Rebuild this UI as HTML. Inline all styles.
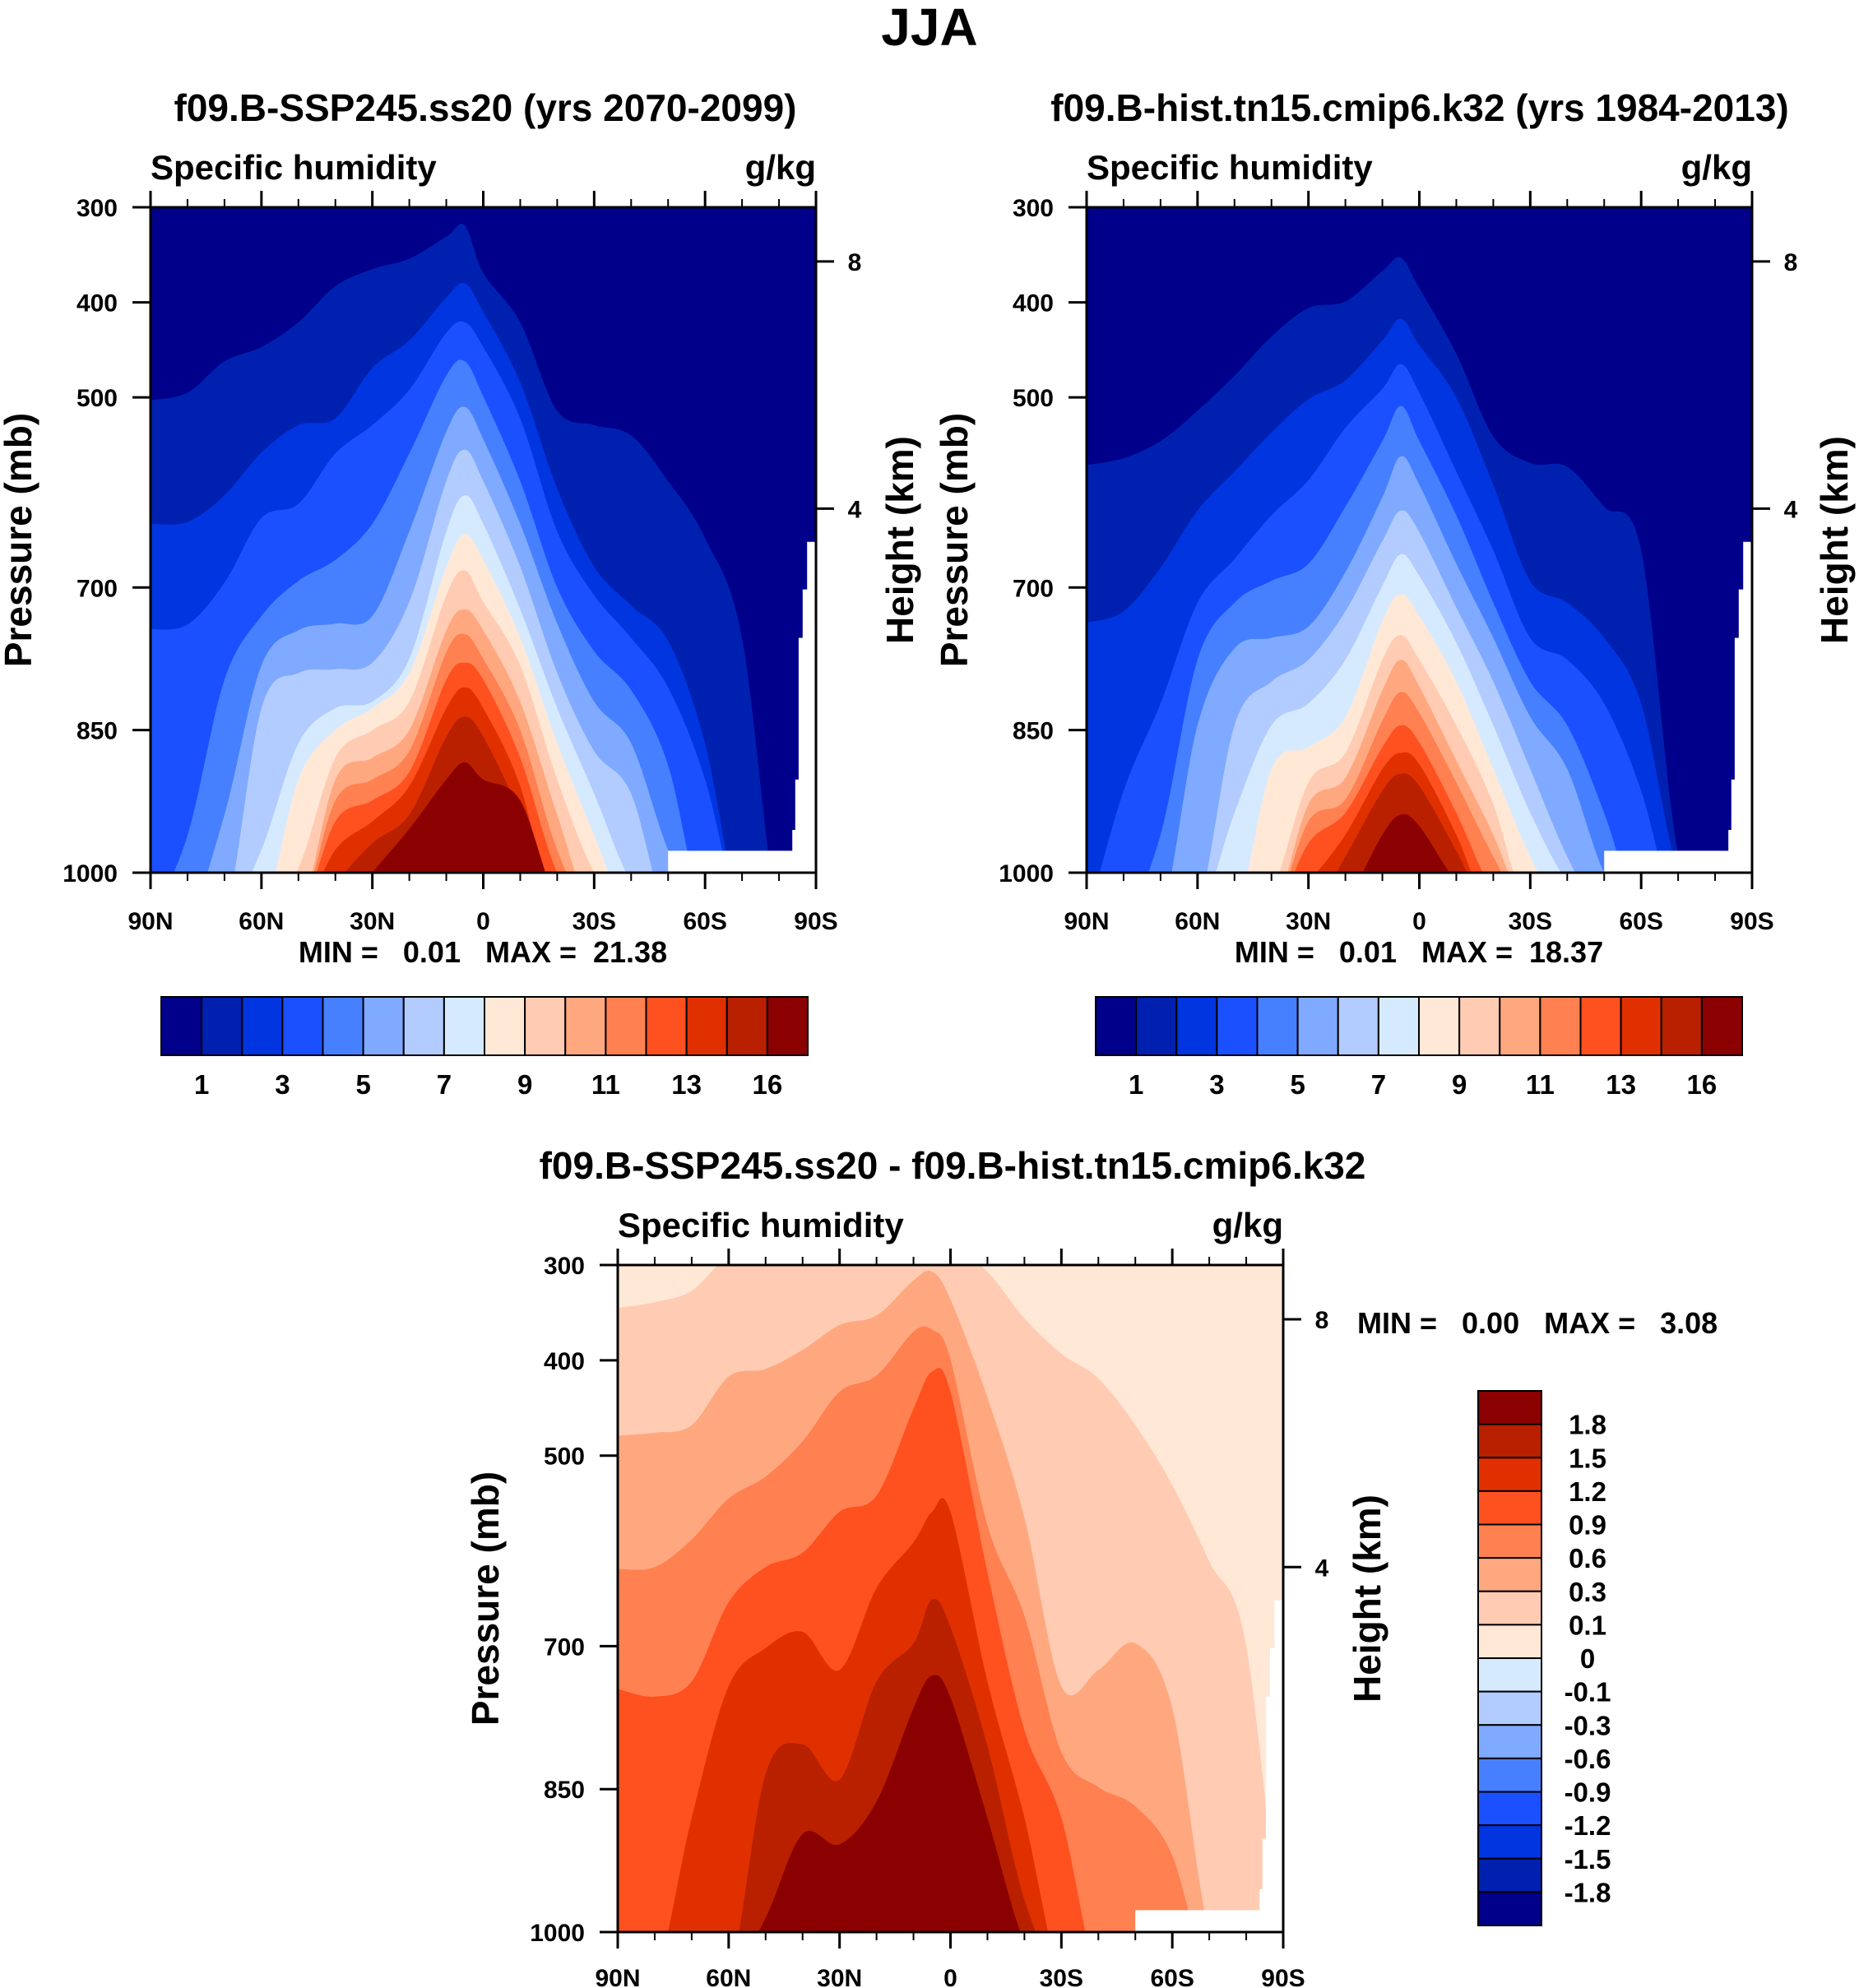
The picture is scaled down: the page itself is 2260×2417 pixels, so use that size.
<!DOCTYPE html>
<html><head><meta charset="utf-8"><style>
html,body{margin:0;padding:0;background:#fff}
svg{display:block}
text{font-family:"Liberation Sans",Arial,sans-serif;font-weight:bold;fill:#000}
</style></head><body>
<svg id="fig" width="2260" height="2417" viewBox="0 0 2260 2417" xmlns="http://www.w3.org/2000/svg">
<text x="1130" y="55" font-size="64" text-anchor="middle">JJA</text>
<text x="590" y="147" font-size="46" text-anchor="middle">f09.B-SSP245.ss20 (yrs 2070-2099)</text>
<text x="1726" y="147" font-size="46" text-anchor="middle">f09.B-hist.tn15.cmip6.k32 (yrs 1984-2013)</text>
<text x="1158" y="1433" font-size="46" text-anchor="middle">f09.B-SSP245.ss20 - f09.B-hist.tn15.cmip6.k32</text>
<text x="587" y="1170" font-size="36" text-anchor="middle" xml:space="preserve">MIN =   0.01   MAX =  21.38</text>
<text x="1725" y="1170" font-size="36" text-anchor="middle" xml:space="preserve">MIN =   0.01   MAX =  18.37</text>
<text x="1650" y="1621" font-size="36" xml:space="preserve">MIN =   0.00   MAX =   3.08</text>
</svg>
<script>
const lats=[90,80,70,60,50,40,30,20,10,5,0,-10,-20,-30,-40,-50,-60,-70,-80,-90];
const palette=['#00008a','#0020b0','#0035e0','#1a50ff','#4680ff','#80aaff','#b3ccff','#d6eaff','#ffe8d6','#ffccb3','#ffa880','#ff8050','#ff5020','#e03000','#b82000','#8b0000'];
const xTickLabels=['90N','60N','30N','0','30S','60S','90S'];
const pTicks=[300,400,500,700,850,1000];
const hTicks=[8,4];
const hTickP=[357,617];
const cbLabels1=['1','3','5','7','9','11','13','16'];
const cbLabels3=['1.8','1.5','1.2','0.9','0.6','0.3','0.1','0','-0.1','-0.3','-0.6','-0.9','-1.2','-1.5','-1.8'];
const X=1050;
const q1Levels=[
[503,495,462,447,421,383,365,354,331,319,369,421,514,529,540,588,648,753,X,X],
[633,631,603,558,529,522,469,440,395,380,410,484,596,678,719,756,864,X,X,X],
[744,739,695,627,612,559,529,492,432,421,447,522,641,708,753,805,902,X,X,X],
[X,961,797,730,693,671,633,559,477,462,499,588,700,767,808,887,X,X,X,X],
[X,X,939,782,745,738,730,641,536,510,544,633,738,820,864,976,X,X,X,X],
[X,X,X,827,790,786,779,715,588,555,588,678,790,872,917,X,X,X,X,X],
[X,X,X,976,864,827,820,775,641,603,633,723,827,917,1010,X,X,X,X,X],
[X,X,X,X,902,850,827,790,678,644,671,753,864,961,X,X,X,X,X,X],
[X,X,X,X,995,879,850,820,708,682,715,782,902,1000,X,X,X,X,X,X],
[X,X,X,X,X,902,879,850,745,723,745,820,939,X,X,X,X,X,X,X],
[X,X,X,X,X,924,902,872,768,749,775,850,976,X,X,X,X,X,X,X],
[X,X,X,X,X,946,924,894,797,779,797,879,1000,X,X,X,X,X,X,X],
[X,X,X,X,X,976,946,909,827,805,827,909,X,X,X,X,X,X,X,X],
[X,X,X,X,X,1010,969,939,857,836,857,939,X,X,X,X,X,X,X,X],
[X,X,X,X,X,X,1000,954,902,884,902,924,1030,X,X,X,X,X,X,X]];
const q2Levels=[
[571,564,546,514,477,436,406,399,367,353,385,454,541,569,573,615,661,980,X,X],
[737,725,679,619,578,537,502,482,440,417,445,500,592,693,716,753,822,1000,X,X],
[X,914,822,716,670,624,587,532,491,465,495,578,661,753,776,822,914,X,X,X],
[X,X,960,776,716,693,675,615,546,509,546,624,716,799,845,937,X,X,X,X],
[X,X,X,845,764,753,741,684,605,562,592,675,753,836,891,1000,X,X,X,X],
[X,X,X,1040,845,799,776,725,651,619,642,721,799,891,983,X,X,X,X,X],
[X,X,X,X,937,845,822,776,698,665,688,758,845,937,1010,X,X,X,X,X],
[X,X,X,X,X,891,868,836,735,707,730,799,891,983,X,X,X,X,X,X],
[X,X,X,X,X,1020,905,874,776,750,776,845,928,X,X,X,X,X,X,X],
[X,X,X,X,X,X,928,900,808,776,804,882,960,X,X,X,X,X,X,X],
[X,X,X,X,X,X,946,923,840,810,832,905,983,X,X,X,X,X,X,X],
[X,X,X,X,X,X,969,937,868,845,863,937,1020,X,X,X,X,X,X,X],
[X,X,X,X,X,X,1010,960,891,874,886,960,X,X,X,X,X,X,X,X],
[X,X,X,X,X,X,X,983,914,896,909,977,X,X,X,X,X,X,X,X],
[X,X,X,X,X,X,X,1030,960,939,951,1010,X,X,X,X,X,X,X,X]];
const q3Levels=[
[345,339,327,290,280,280,280,280,280,280,280,307,356,393,419,468,531,611,700,X],
[479,476,468,417,409,389,363,353,316,307,336,439,565,742,725,697,765,1000,X,X],
[619,617,588,545,522,485,433,416,370,368,399,573,668,811,848,868,920,X,X,X],
[745,753,737,654,617,602,559,542,451,412,433,622,788,880,X,X,X,X,X,X],
[X,X,880,742,702,685,725,639,591,559,559,737,880,X,X,X,X,X,X,X],
[X,X,X,X,834,803,840,737,697,651,680,805,966,X,X,X,X,X,X,X],
[X,X,X,X,985,897,908,863,765,731,754,880,1010,X,X,X,X,X,X,X]];
const q3Colors=['#ffe8d6','#ffccb3','#ffa880','#ff8050','#ff5020','#e03000','#b82000','#8b0000'];
const maskLat=[-50,-50,-83.6,-83.6,-84.4,-84.4,-85.3,-85.3,-86.4,-86.4,-87.6,-87.6,-90,-90];
const maskP=[1000,977,977,955,955,902,902,753,753,702,702,652,652,1000];

const svg=document.getElementById('fig');
const NS='http://www.w3.org/2000/svg';
function mk(tag,attrs,parent){const e=document.createElementNS(NS,tag);for(const k in attrs)e.setAttribute(k,attrs[k]);(parent||svg).appendChild(e);return e;}

function panel(id,P,levels,colors,cfg){
  const sx=lat=>P.x+(90-lat)/180*P.w;
  const sy=p=>P.y+(p-300)/700*P.h;
  const g=mk('g',{});
  
  
  const cp=mk('clipPath',{id:id+'clip'},g);
  mk('rect',{x:P.x,y:P.y,width:P.w,height:P.h},cp);
  const cg=mk('g',{'clip-path':'url(#'+id+'clip)'},g);
  const base=mk('rect',{x:P.x,y:P.y,width:P.w,height:P.h,fill:colors[0]},cg);
  
  
  levels.forEach((arr,k)=>{
    const pts=lats.map((l,i)=>[sx(l),sy(arr[i])]);
    let d='M'+(P.x-10)+','+pts[0][1].toFixed(1)+' L'+pts[0][0].toFixed(1)+','+pts[0][1].toFixed(1);
    for(let i=0;i<pts.length-1;i++){
      const p0=pts[Math.max(0,i-1)],p1=pts[i],p2=pts[i+1],p3=pts[Math.min(pts.length-1,i+2)];
      const c1=[p1[0]+(p2[0]-p0[0])/6,p1[1]+(p2[1]-p0[1])/6];
      const c2=[p2[0]-(p3[0]-p1[0])/6,p2[1]-(p3[1]-p1[1])/6];
      d+=' C'+c1[0].toFixed(1)+','+c1[1].toFixed(1)+' '+c2[0].toFixed(1)+','+c2[1].toFixed(1)+' '+p2[0].toFixed(1)+','+p2[1].toFixed(1);
    }
    const last=pts[pts.length-1];
    d+=' L'+(P.x+P.w+10)+','+last[1].toFixed(1)+' L'+(P.x+P.w+10)+','+(P.y+P.h+60)+' L'+(P.x-10)+','+(P.y+P.h+60)+' Z';
    const band=mk('path',{d:d,fill:colors[k+1]},cg);
    
    
  });
  const mpts=maskLat.map((l,i)=>sx(l).toFixed(1)+','+sy(maskP[i]).toFixed(1)).join(' ');
  const mask=mk('polygon',{points:mpts,fill:'#fff'},cg);
  
  
  const fr=mk('rect',{x:P.x,y:P.y,width:P.w,height:P.h,fill:'none',stroke:'#000','stroke-width':3},g);
  
  
  for(let lat=90;lat>=-90;lat-=10){
    const x=sx(lat),maj=(lat%30===0),L=maj?20:10;
    mk('line',{x1:x,y1:P.y,x2:x,y2:P.y-L,stroke:'#000','stroke-width':maj?3:2},g);
    mk('line',{x1:x,y1:P.y+P.h,x2:x,y2:P.y+P.h+L,stroke:'#000','stroke-width':maj?3:2},g);
  }
  xTickLabels.forEach((t,i)=>{
    const e=mk('text',{x:sx(90-30*i),y:P.y+P.h+cfg.xlabOff,'font-size':30,'text-anchor':'middle'},g);
    e.textContent=t;
    
    
  });
  pTicks.forEach(p=>{
    const y=sy(p);
    mk('line',{x1:P.x,y1:y,x2:P.x-22,y2:y,stroke:'#000','stroke-width':3},g);
    const e=mk('text',{x:P.x-40,y:y+11,'font-size':30,'text-anchor':'end'},g);
    e.textContent=p;
    
    
  });
  hTicks.forEach((h,i)=>{
    const y=sy(hTickP[i]);
    mk('line',{x1:P.x+P.w,y1:y,x2:P.x+P.w+22,y2:y,stroke:'#000','stroke-width':3},g);
    const e=mk('text',{x:P.x+P.w+47,y:y+11,'font-size':30,'text-anchor':'middle'},g);
    e.textContent=h;
    
    
  });
  const s1=mk('text',{x:P.x,y:P.y-34,'font-size':42},g);
  s1.textContent='Specific humidity';
  
  
  const s2=mk('text',{x:P.x+P.w,y:P.y-34,'font-size':42,'text-anchor':'end'},g);
  s2.textContent='g/kg';
  
  
  const cy=P.y+P.h/2;
  const yl=mk('text',{x:cfg.plx,y:cy,'font-size':46,'text-anchor':'middle',transform:'rotate(-90 '+cfg.plx+' '+cy+')'},g);
  yl.textContent='Pressure (mb)';
  
  
  const hl=mk('text',{x:cfg.hlx,y:cy,'font-size':46,'text-anchor':'middle',transform:'rotate(-90 '+cfg.hlx+' '+cy+')'},g);
  hl.textContent='Height (km)';
  
  
}

function hbar(id,x,y,w,h){
  const g=mk('g',{});
  
  
  const bw=w/palette.length;
  palette.forEach((c,i)=>{
    const r=mk('rect',{x:x+i*bw,y:y,width:bw,height:h,fill:c,stroke:'#000','stroke-width':2},g);
    
    
  });
  cbLabels1.forEach((t,i)=>{
    const e=mk('text',{x:x+(1+2*i)*bw,y:y+h+47,'font-size':33,'text-anchor':'middle'},g);
    e.textContent=t;
    
    
  });
}
function vbar(id,x,y,w,h){
  const g=mk('g',{});
  
  
  const bh=h/palette.length;
  palette.slice().reverse().forEach((c,i)=>{
    const r=mk('rect',{x:x,y:y+i*bh,width:w,height:bh,fill:c,stroke:'#000','stroke-width':2},g);
    
    
  });
  cbLabels3.forEach((t,i)=>{
    const e=mk('text',{x:x+w+56,y:y+(i+1)*bh+12,'font-size':33,'text-anchor':'middle'},g);
    e.textContent=t;
    
    
  });
}

panel('panel1',{x:183,y:252,w:809,h:809},q1Levels,palette,{xlabOff:69,plx:38,hlx:1110});
panel('panel2',{x:1321,y:252,w:809,h:809},q2Levels,palette,{xlabOff:69,plx:1176,hlx:2246});
panel('panel3',{x:751,y:1538,w:809,h:811},q3Levels,q3Colors,{xlabOff:66,plx:606,hlx:1678});
hbar('colorbar1',196,1212,786,71);
hbar('colorbar2',1332,1212,786,71);
vbar('colorbar3',1797,1691,77,650);
</script>
</body></html>
